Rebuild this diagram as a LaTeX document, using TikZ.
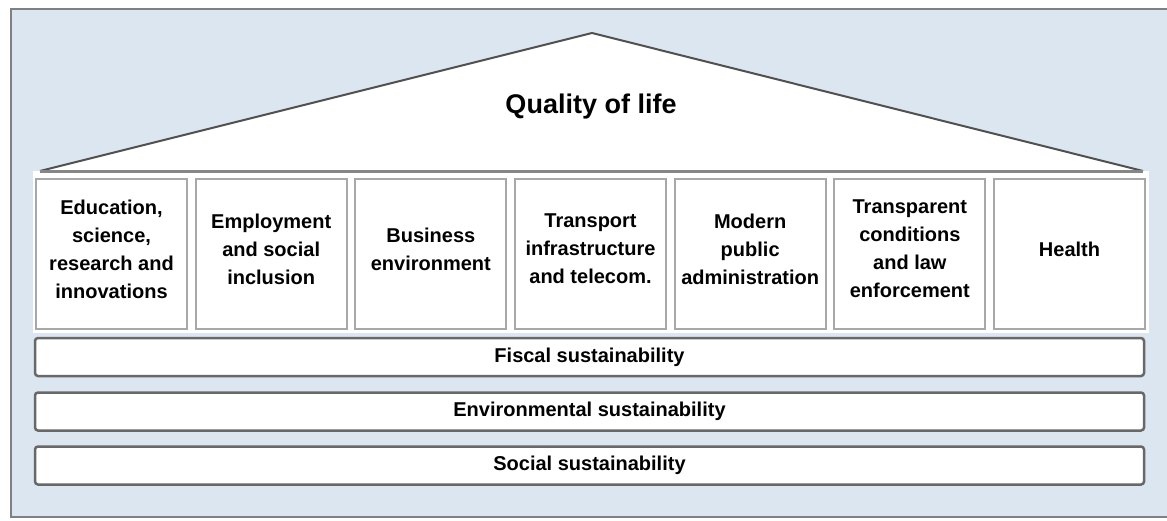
\documentclass[tikz,border=0pt]{standalone}
\usepackage{fontspec}
\setmainfont{Liberation Sans}
\definecolor{skyback}{HTML}{DCE6F1}
\definecolor{framegray}{HTML}{808080}
\definecolor{roofgray}{HTML}{505050}
\definecolor{pillargray}{HTML}{A8A8A8}
\definecolor{bandgray}{HTML}{686868}
\begin{document}
\begin{tikzpicture}[x=1pt,y=-1pt,
		pillar/.style={draw=pillargray,line width=2pt,fill=white,minimum width=151pt,minimum height=150pt,inner sep=0pt},
		pillartext/.style={align=center,font=\fontsize{20}{28}\selectfont\bfseries,inner sep=0pt},
		band/.style={draw=bandgray,line width=2.5pt,rounded corners=3pt,fill=white,minimum width=1109pt,minimum height=38pt,inner sep=0pt,font=\fontsize{20}{24}\selectfont\bfseries}]
		\useasboundingbox (0,0) rectangle (1167,520);
		\clip (0,0) rectangle (1167,520);
		% outer frame
		\draw[framegray,line width=2.5pt,fill=skyback] (11,9) rectangle (1180,517);
		% roof
		\coordinate (eaveL) at (40,171);
		\coordinate (apex) at (592,33);
		\coordinate (eaveR) at (1143,171);
		\fill[white] (eaveL) -- (apex) -- (eaveR) -- cycle;
		\fill[white] (33,171) rectangle (1149,333);
		\draw[roofgray,line width=2pt,line join=round] (eaveL) -- (apex) -- (eaveR);
		\draw[pillargray!80!black,line width=3pt] (eaveL) -- (eaveR);
		\node[font=\fontsize{27}{32}\selectfont\bfseries] (title) at (591,107) {Quality of life};
		% pillars
		\foreach \n/\txt in {0/{Education,\\science,\\research and\\innovations},
				1/{Employment\\and social\\inclusion},
				2/{Business\\environment},
				3/{Transport\\infrastructure\\and telecom.},
				4/{Modern\\public\\administration},
				5/{Transparent\\conditions\\and law\\enforcement},
				6/{Health}}
		{
			\node[pillar] (p\n) at ({111.5+159.67*\n},254) {};
			\node[pillartext,yshift=5pt] (t\n) at (p\n.center) {\txt};
		}
		% foundation
		\node[band] (fiscal) at (589.5,357) {Fiscal sustainability};
		\node[band] (environ) at (589.5,411.5) {Environmental sustainability};
		\node[band] (social) at (589.5,465.5) {Social sustainability};
\end{tikzpicture}
\end{document}
